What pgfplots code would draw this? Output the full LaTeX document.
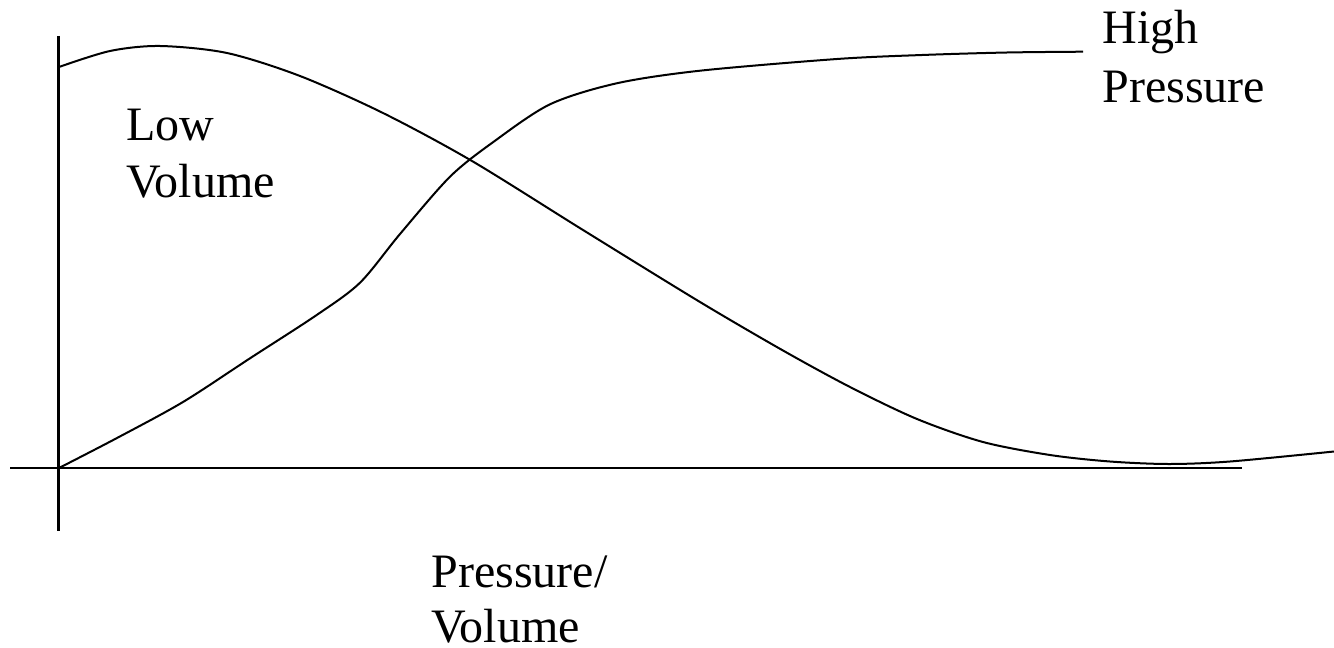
\documentclass[border=0pt]{standalone}
\usepackage{fontspec}
\setmainfont{Liberation Serif}
\usepackage{pgfplots}
\pgfplotsset{compat=1.18}
\begin{document}
\begin{tikzpicture}
\begin{axis}[name=ax,
  scale only axis, hide axis, clip=false,
  width=667bp, height=324bp,
  xmin=0, xmax=1334, ymin=0, ymax=648, y dir=reverse]
% axes
\addplot[black, line width=1.3bp] coordinates {(10,468) (1242,468)};
\addplot[black, line width=1.3bp] coordinates {(58.5,36) (58.5,531)};
% decreasing curve
\addplot[black, line width=1bp, smooth, tension=0.5] coordinates {
 (59,67) (110,51) (160,46) (227,53) (300,76) (383,113)
 (472,161) (583,230) (700,302) (783,350.5) (850,387)
 (917,419) (983,442) (1050,455) (1110,461.5) (1169,464) (1230,461.5) (1334,451.5)};
% increasing curve
\addplot[black, line width=1bp, smooth, tension=0.5] coordinates {
 (59,468) (117,438) (183,402) (250,358.3) (316.7,315)
 (360,282.7) (400,234) (450,176.7)
 (493.3,142) (550,104.3) (616.7,83.3)
 (700,70.7) (837,59) (922,55) (1007,52.5) (1083,51.7)};
% labels
\tikzset{lbl/.style={anchor=base west, inner sep=0pt, font=\fontsize{24bp}{28.5bp}\selectfont}}
\node[lbl] at (axis cs:126,140) {Low};
\node[lbl] at (axis cs:126,197) {Volume};
\node[lbl] at (axis cs:1102,44) {High};
\node[lbl] at (axis cs:1102,102) {Pressure};
\node[lbl] at (axis cs:431,587) {Pressure/};
\node[lbl] at (axis cs:431,642) {Volume};
\end{axis}
\pgfresetboundingbox
\path (ax.south west) rectangle (ax.north east);
\end{tikzpicture}
\end{document}
